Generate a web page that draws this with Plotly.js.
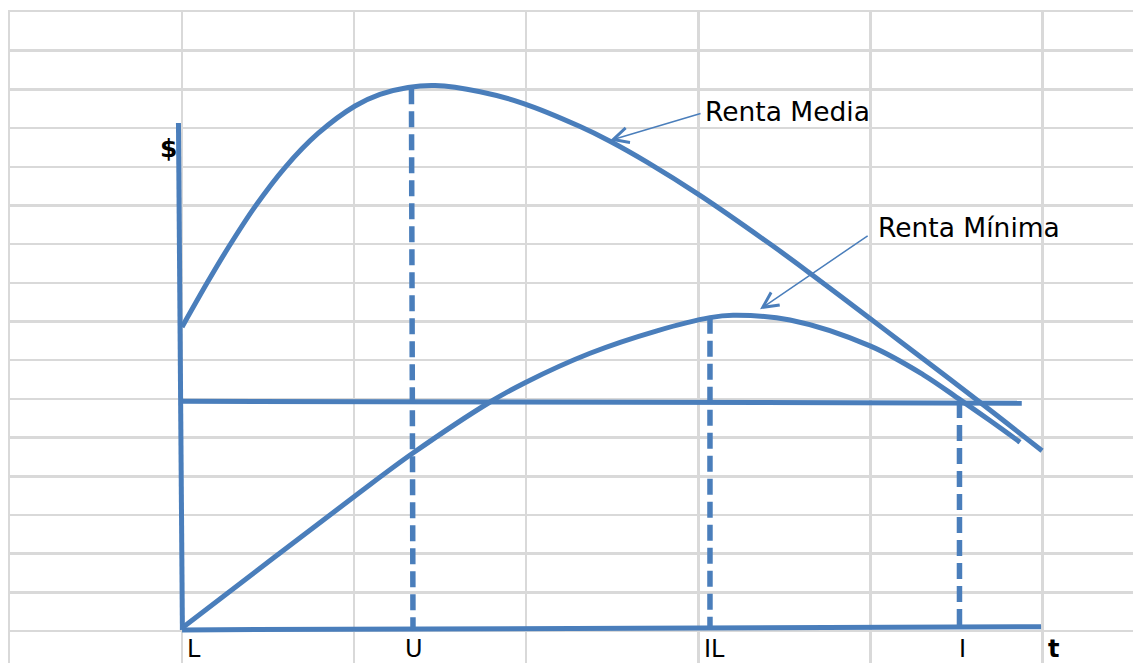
<!DOCTYPE html>
<html>
<head>
<meta charset="utf-8">
<script src="https://cdn.plot.ly/plotly-3.0.1.min.js"></script>
<style>html,body{margin:0;padding:0;background:#fff;}#chart{width:1133px;height:663px;}</style>
</head>
<body>
<div id="chart"></div>
<script>
// Units: x = spreadsheet columns from the $ axis, y = spreadsheet rows above the t axis
const mediaX = [0.00,0.151,0.267,0.424,0.598,0.790,1.005,1.150,1.313,1.470,1.732,1.981,2.313,2.487,2.702,3.010,3.434,3.649,3.998,4.172,4.620,4.998];
const mediaY = [7.86,9.04,9.90,10.97,11.98,12.86,13.57,13.87,14.05,14.10,13.94,13.64,13.04,12.66,12.12,11.26,9.95,9.25,8.08,7.49,5.97,4.66];

const minimaX = [0.00,0.540,1.005,1.342,1.790,1.993,2.371,2.760,3.068,3.202,3.533,3.998,4.306,4.521,4.695,4.870];
const minimaY = [0.08,1.92,3.49,4.60,5.92,6.42,7.18,7.76,8.10,8.16,8.04,7.37,6.63,5.98,5.44,4.88];

const levelX = [0.00, 4.880];
const levelY = [5.94, 5.89];

const dollarAxisX = [-0.021, 0.002];
const dollarAxisY = [13.13, 0.03];
const timeAxisX = [0.00, 4.992];
const timeAxisY = [0.03, 0.111];

const dropNames = ['U','IL','I'];
const dropX = [[1.333,1.342],[3.068,3.068],[4.518,4.518]];
const dropY = [[14.03,0.04],[8.10,0.04],[5.92,0.05]];

const tickLabels = ['L','U','IL','I','<b>t</b>'];
const tickLabelX = [0.070,1.348,3.097,4.538,5.062];
const tickLabelY = -0.452;

const curveLabels = ['Renta Media','Renta Mínima'];
const curveLabelX = [3.025,4.034];
const curveLabelY = [13.44,10.44];
const arrowTailX = [3.022,3.993];
const arrowTailY = [13.39,10.24];
const arrowTipX = [2.487,3.359];
const arrowTipY = [12.68,8.32];

const blue = '#4a7ebb';
const lw = 5;

const traces = [];
function addLine(x, y, extra) {
  traces.push(Object.assign({
    type: 'scatter', mode: 'lines', x: x, y: y, hoverinfo: 'skip', showlegend: false,
    cliponaxis: false, line: {color: blue, width: lw}
  }, extra || {}));
}
addLine(timeAxisX, timeAxisY);
addLine(dollarAxisX, dollarAxisY);
addLine(levelX, levelY);
dropNames.forEach((n, i) => addLine(dropX[i], dropY[i], {name: n, line: {color: blue, width: 5.5, dash: '16px,7px'}}));
addLine(mediaX, mediaY, {name: 'Renta Media', line: {color: blue, width: lw, shape: 'spline', smoothing: 1}});
addLine(minimaX, minimaY, {name: 'Renta Mínima', line: {color: blue, width: lw, shape: 'spline', smoothing: 1}});

const font = {family: 'DejaVu Sans', size: 25, color: '#000'};
const tickFont = {family: 'DejaVu Sans', size: 24, color: '#000'};
const labelFont = {family: 'DejaVu Sans', size: 26.5, color: '#000'};
const annotations = [];
tickLabels.forEach((t, i) => annotations.push({
  x: tickLabelX[i], y: tickLabelY, xref: 'x', yref: 'y', text: t, showarrow: false,
  xanchor: 'center', yanchor: 'middle', borderpad: 0, font: tickFont
}));
annotations.push({x: -0.079, y: 12.46, xref: 'x', yref: 'y', text: '<b>$</b>', showarrow: false,
  xanchor: 'center', yanchor: 'middle', font: font});
curveLabels.forEach((t, i) => {
  annotations.push({x: curveLabelX[i], y: curveLabelY[i], xref: 'x', yref: 'y', text: t, showarrow: false,
    xanchor: 'left', yanchor: 'middle', font: labelFont});
  annotations.push({x: arrowTipX[i], y: arrowTipY[i], xref: 'x', yref: 'y', ax: arrowTailX[i], ay: arrowTailY[i],
    axref: 'x', ayref: 'y', text: '', showarrow: true, arrowhead: 5, arrowsize: 2, arrowwidth: 1.5,
    arrowcolor: blue, standoff: 0, startstandoff: 0});
});

const plotW = 1123, plotH = 651;
const colPx = 172.07, rowPx = 38.69;
const axisCommon = {
  showgrid: true, gridcolor: '#d9d9d9', gridwidth: 2.5, zeroline: false, showticklabels: false,
  ticks: '', dtick: 1, tick0: 0, showline: true, linecolor: '#d9d9d9', linewidth: 2.5, fixedrange: true
};
const layout = {
  width: 1133, height: 663,
  margin: {l: 10, r: 0, t: 12, b: 0, pad: 0},
  paper_bgcolor: '#fff', plot_bgcolor: '#fff',
  xaxis: Object.assign({}, axisCommon, {range: [-1, -1 + plotW / colPx], side: 'top'}),
  yaxis: Object.assign({}, axisCommon, {range: [16 - plotH / rowPx, 16], side: 'left'}),
  annotations: annotations,
  showlegend: false
};
Plotly.newPlot('chart', traces, layout, {staticPlot: true, displayModeBar: false});
</script>
</body>
</html>
